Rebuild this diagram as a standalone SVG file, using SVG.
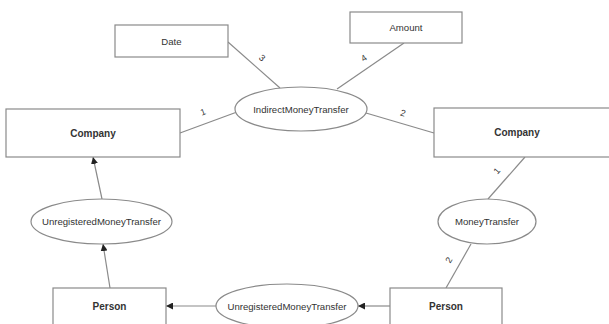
<svg xmlns="http://www.w3.org/2000/svg" width="609" height="324" viewBox="0 0 609 324">
<style>
.box{fill:#fff;stroke:#8a8a8a;stroke-width:1.2}
.ell{fill:#fff;stroke:#8a8a8a;stroke-width:1.2}
.t{font-family:"Liberation Sans",Arial,sans-serif;font-size:9.6px;fill:#333;text-anchor:middle;dominant-baseline:central}
.b{font-weight:bold;font-size:10px}
.ln{stroke:#8a8a8a;stroke-width:1.2;fill:none}
.lab{font-family:"Liberation Sans",Arial,sans-serif;font-size:9px;fill:#333;text-anchor:middle;dominant-baseline:central}
</style>
<defs>
<marker id="ah" viewBox="0 0 10 10" refX="10" refY="5" markerWidth="7" markerHeight="7" markerUnits="userSpaceOnUse" orient="auto">
<path d="M0,0 L10,5 L0,10 z" fill="#222"/>
</marker>
</defs>
<rect width="609" height="324" fill="#fff"/>
<g id="connectors">
<line class="ln" x1="228" y1="42" x2="280" y2="88"/>
<line class="ln" x1="180" y1="133" x2="237" y2="112"/>
<line class="ln" x1="404" y1="43" x2="337" y2="89"/>
<line class="ln" x1="366" y1="113" x2="434" y2="133"/>
<line class="ln" x1="525" y1="157" x2="488" y2="199"/>
<line class="ln" x1="471" y1="244" x2="446" y2="288"/>
<line class="ln" x1="390" y1="306" x2="358" y2="306" marker-end="url(#ah)"/>
<line class="ln" x1="216" y1="306" x2="166" y2="306" marker-end="url(#ah)"/>
<line class="ln" x1="110" y1="288" x2="103" y2="244" marker-end="url(#ah)"/>
<line class="ln" x1="102" y1="199" x2="93" y2="157" marker-end="url(#ah)"/>
<text class="lab" transform="translate(262,58) rotate(41)">3</text>
<text class="lab" transform="translate(364,58) rotate(-34)">4</text>
<text class="lab" transform="translate(203,112) rotate(-21)">1</text>
<text class="lab" transform="translate(403,113) rotate(17)">2</text>
<text class="lab" transform="translate(497,171) rotate(-49)">1</text>
<text class="lab" transform="translate(449,260) rotate(-60)">2</text>
</g>
<g id="date"><rect class="box" x="115" y="25" width="113" height="32"/><text class="t" x="171.5" y="41">Date</text></g>
<g id="amount"><rect class="box" x="350" y="12" width="112" height="31"/><text class="t" x="406" y="27.5">Amount</text></g>
<g id="indirect"><ellipse class="ell" cx="301" cy="109" rx="66" ry="22"/><text class="t" x="301" y="109">IndirectMoneyTransfer</text></g>
<g id="company1"><rect class="box" x="6" y="109" width="174" height="48"/><text class="t b" x="93" y="133">Company</text></g>
<g id="company2"><rect class="box" x="434" y="108" width="180" height="49"/><text class="t b" x="517" y="132.5">Company</text></g>
<g id="moneytransfer"><ellipse class="ell" cx="487" cy="221.5" rx="49" ry="22.5"/><text class="t" x="487" y="221.5">MoneyTransfer</text></g>
<g id="unreg1"><ellipse class="ell" cx="101.5" cy="221.5" rx="70.5" ry="22.5"/><text class="t" x="101.5" y="221.5">UnregisteredMoneyTransfer</text></g>
<g id="unreg2"><ellipse class="ell" cx="287" cy="306" rx="71" ry="22"/><text class="t" x="287" y="306">UnregisteredMoneyTransfer</text></g>
<g id="person1"><rect class="box" x="53" y="288" width="113" height="45"/><text class="t b" x="109.5" y="306">Person</text></g>
<g id="person2"><rect class="box" x="390" y="288" width="112" height="45"/><text class="t b" x="446" y="306">Person</text></g>
</svg>
